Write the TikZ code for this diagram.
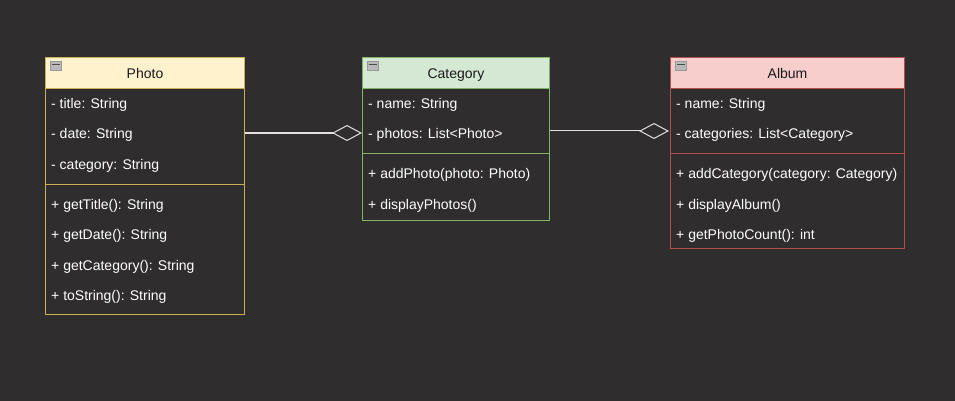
\documentclass[tikz,border=0pt]{standalone}
\usepackage{fontspec}
\setmainfont{Liberation Sans}
\usetikzlibrary{positioning}
\usetikzlibrary{arrows.meta}
\usetikzlibrary{calc}
\definecolor{custom-bg}{RGB}{47, 45, 46}
\definecolor{photo-fill}{RGB}{255, 242, 204}
\definecolor{photo-line}{RGB}{204, 174, 84}
\definecolor{cat-fill}{RGB}{213, 232, 212}
\definecolor{cat-line}{RGB}{130, 179, 102}
\definecolor{album-fill}{RGB}{248, 206, 204}
\definecolor{album-line}{RGB}{176, 80, 76}
\definecolor{link-gray}{RGB}{225, 225, 225}
\tikzset{
  head/.style={draw, line width=1pt, anchor=north west, minimum height=31, inner sep=0, text height=13pt, text depth=2pt, text=black!90, font=\fontsize{14}{16}\selectfont},
  part/.style={draw, line width=1pt, anchor=north west, inner sep=0},
  row/.style={anchor=west, inner sep=0, yshift=-1.5pt, text=white, font=\fontsize{14}{16}\selectfont},
  aggr/.style={draw=link-gray, line width=1pt, -{Diamond[open, length=30, width=16, line width=1pt]}}
}
\newcommand{\foldbox}[1]{%
  \filldraw[fill=gray!55, draw=gray!80] ($(#1.north west)+(5,4)$) rectangle ++(11,9);
  \draw[black!70, line width=1.5pt] ($(#1.north west)+(6.5,7.5)$) -- ++(8,0);}

\begin{document}
\begin{tikzpicture}[x=1pt, y=-1pt]
\fill[custom-bg] (0,0) rectangle (955,401);

% Photo
\node[head, fill=photo-fill, draw=photo-line, minimum width=199] (photo) at (45,57) {Photo};
\node[part, draw=photo-line, minimum width=199, minimum height=96] (photoattr) at (45,88) {};
\node[part, draw=photo-line, minimum width=199, minimum height=130] (photometh) at (45,184) {};
\foldbox{photo}
\node[row] (ptitle) at (51,103) {- title: String};
\node[row] (pdate) at (51,133) {- date: String};
\node[row] (pcat) at (51,164) {- category: String};
\node[row] (pgettitle) at (51,204) {+ getTitle(): String};
\node[row] (pgetdate) at (51,234) {+ getDate(): String};
\node[row] (pgetcat) at (51,265) {+ getCategory(): String};
\node[row] (ptostring) at (51,295) {+ toString(): String};

% Category
\node[head, fill=cat-fill, draw=cat-line, minimum width=187] (category) at (362,57) {Category};
\node[part, draw=cat-line, minimum width=187, minimum height=65] (catattr) at (362,88) {};
\node[part, draw=cat-line, minimum width=187, minimum height=67] (catmeth) at (362,153) {};
\foldbox{category}
\node[row] (cname) at (368,103) {- name: String};
\node[row] (cphotos) at (368,133) {- photos: List<Photo>};
\node[row] (caddphoto) at (368,173) {+ addPhoto(photo: Photo)};
\node[row] (cdisplay) at (368,204) {+ displayPhotos()};

% Album
\node[head, fill=album-fill, draw=album-line, minimum width=234] (album) at (670,57) {Album};
\node[part, draw=album-line, minimum width=234, minimum height=65] (albumattr) at (670,88) {};
\node[part, draw=album-line, minimum width=234, minimum height=95] (albummeth) at (670,153) {};
\foldbox{album}
\node[row] (aname) at (676,103) {- name: String};
\node[row] (acats) at (676,133) {- categories: List<Category>};
\node[row] (aaddcat) at (676,173) {+ addCategory(category: Category)};
\node[row] (adisplay) at (676,204) {+ displayAlbum()};
\node[row] (acount) at (676,234) {+ getPhotoCount(): int};

% aggregations
\draw[aggr] ([yshift=1.5]photoattr.east |- pdate) -- ([yshift=1.5]catattr.west |- pdate);
\draw[aggr] ([yshift=3.5]catattr.east |- cphotos) -- ([yshift=3.5,xshift=-1]albumattr.west |- cphotos);
\end{tikzpicture}
\end{document}
